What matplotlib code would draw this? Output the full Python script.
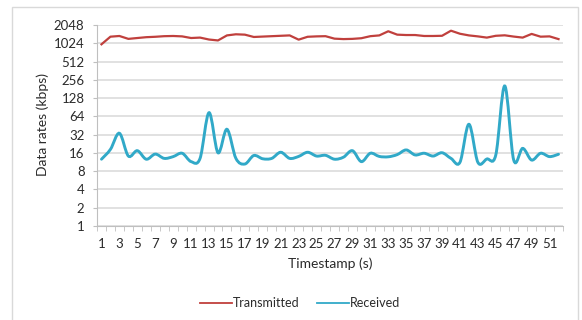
import numpy as np
import matplotlib
matplotlib.use('Agg')
from matplotlib import pyplot as plt, patches
from matplotlib.path import Path

plt.rcParams['font.family'] = ['Lato', 'DejaVu Sans']

# Data
timestamps = list(range(1, 53))
transmitted = [985, 1315, 1350, 1210, 1250, 1290, 1310, 1340, 1350, 1330,
               1250, 1270, 1180, 1140, 1380, 1440, 1420, 1300, 1320, 1340,
               1360, 1380, 1175, 1310, 1330, 1340, 1220, 1200, 1210, 1240,
               1340, 1380, 1615, 1420, 1400, 1400, 1350, 1350, 1360, 1650,
               1470, 1380, 1330, 1270, 1360, 1385, 1320, 1270, 1460, 1315,
               1330, 1200]
received = [12.6, 18.3, 33.7, 14.2, 17.4, 12.6, 15.3, 13.0, 13.9, 15.8,
            11.5, 13.0, 73.6, 16.1, 39.2, 13.0, 10.5, 14.5, 12.8, 13.0,
            16.4, 13.0, 14.0, 16.4, 14.2, 14.6, 12.6, 13.6, 17.4, 11.5,
            15.8, 14.0, 13.8, 15.0, 17.9, 14.8, 15.8, 14.2, 16.1, 13.0,
            11.2, 47.4, 11.2, 12.7, 14.8, 203, 12.2, 19.0, 12.2, 15.8,
            13.9, 15.2]
y_ticks = [1, 2, 4, 8, 16, 32, 64, 128, 256, 512, 1024, 2048]

RED = '#c0403d'
BLUE = '#31a9c8'
GRID = '#d9d9d9'
TEXT = '#2b2b2b'


def smooth_path(xs, ys):
    # Bezier curve through the points (Catmull-Rom style), built in log2 space
    x = np.asarray(xs, float)
    y = np.log2(np.asarray(ys, float))
    px = np.concatenate([[x[0]], x, [x[-1]]])
    py = np.concatenate([[y[0]], y, [y[-1]]])
    verts = [(x[0], y[0])]
    codes = [Path.MOVETO]
    for k in range(1, len(x)):
        c1 = (px[k] + (px[k + 1] - px[k - 1]) / 6, py[k] + (py[k + 1] - py[k - 1]) / 6)
        c2 = (px[k + 1] - (px[k + 2] - px[k]) / 6, py[k + 1] - (py[k + 2] - py[k]) / 6)
        verts += [c1, c2, (px[k + 1], py[k + 1])]
        codes += [Path.CURVE4] * 3
    verts = np.array(verts)
    verts[:, 1] = 2 ** verts[:, 1]
    return Path(verts, codes)


fig = plt.figure(figsize=(5.82, 3.2), dpi=100)
fig.patch.set_facecolor('white')

# chart frame
fig.patches.append(patches.Rectangle((12 / 582, -0.05), 566 / 582, 1 - 7 / 320 + 0.05,
                                     transform=fig.transFigure, fill=False,
                                     edgecolor='#d9d9d9', linewidth=1))

ax = fig.add_axes([97 / 582, 94 / 320, 466 / 582, 201 / 320])
ax.set_yscale('log', base=2)
ax.set_ylim(1, 2048)
ax.set_xlim(0.5, 52.5)

ax.set_yticks(y_ticks)
ax.set_yticklabels([str(t) for t in y_ticks])
ax.minorticks_off()
ax.yaxis.grid(True, color=GRID, linewidth=1.1)
ax.set_axisbelow(True)

ax.set_xticks(timestamps[::2])
ax.set_xticklabels([str(t) for t in timestamps[::2]])
ax.set_xticks(np.arange(0.5, 53, 1), minor=True)
ax.tick_params(axis='x', which='major', length=0, pad=9, labelsize=9.5, labelcolor=TEXT)
ax.tick_params(axis='x', which='minor', length=3.5, color='#bfbfbf', direction='out')
ax.tick_params(axis='y', which='major', length=3, color='#bfbfbf', pad=6,
               labelsize=9.5, labelcolor=TEXT)

for side in ['top', 'right']:
    ax.spines[side].set_visible(False)
for side in ['left', 'bottom']:
    ax.spines[side].set_color('#bfbfbf')

ax.plot(timestamps, transmitted, color=RED, linewidth=1.6, solid_joinstyle='round')
ax.add_patch(patches.PathPatch(smooth_path(timestamps, received), fill=False,
                               edgecolor=BLUE, linewidth=2.1, capstyle='round'))

# legend handles drawn thinner than the series lines
ax.plot([], [], color=RED, linewidth=1.3, label='Transmitted')
ax.plot([], [], color=BLUE, linewidth=1.3, label='Received')

ax.set_xlabel('Timestamp (s)', fontsize=10, color=TEXT, labelpad=5)
fig.text(43 / 582, 1 - 125 / 320, 'Data rates (kbps)', rotation=90, ha='center',
         va='center', fontsize=10, color=TEXT)

fig.legend(loc='center', bbox_to_anchor=(300 / 582, 1 - 303 / 320), ncol=2,
           frameon=False, fontsize=9, handlelength=2.6, handletextpad=0.05,
           columnspacing=1.4, labelcolor=TEXT)

fig.savefig('out.png', dpi=100)
